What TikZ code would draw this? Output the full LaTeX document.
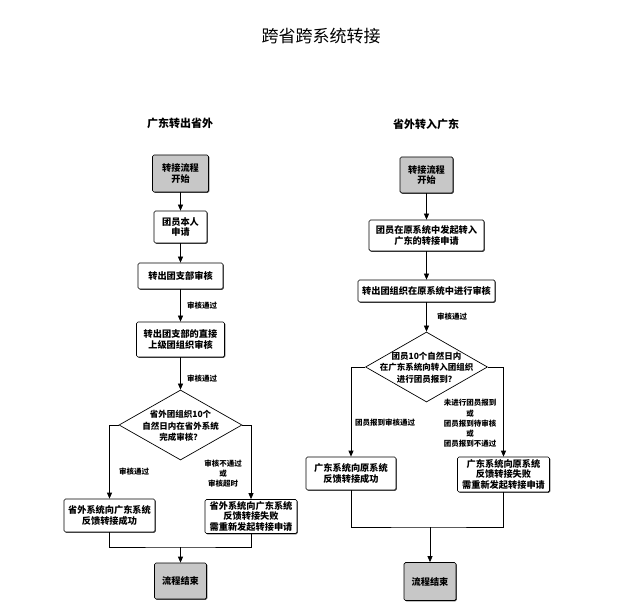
\documentclass[tikz,border=0pt]{standalone}
\usepackage{fontspec}
\setmainfont{Noto Sans CJK SC}
\usetikzlibrary{shapes.geometric,arrows.meta,shadows}
\begin{document}
\begin{tikzpicture}[x=1pt,y=-1pt,
  box/.style={draw, line width=0.7pt, rounded corners=1.5pt, fill=white, align=center, inner sep=0pt,
    font=\fontsize{9.2}{10.5}\selectfont\bfseries,
    drop shadow={shadow xshift=0.8pt, shadow yshift=-0.8pt, fill=black!70, opacity=1}},
  term/.style={box, fill=black!22},
  dia/.style={draw, shape=diamond, line width=0.7pt, inner sep=0pt, fill=white},
  diatext/.style={font=\fontsize{8.5}{11.5}\selectfont\bfseries, align=center, inner sep=0pt},
  lab/.style={font=\fontsize{7.5}{10.2}\selectfont\bfseries, align=center, inner sep=0pt},
  arr/.style={-{Triangle[length=6pt,width=5pt]}, line width=0.7pt},
  ln/.style={line width=0.7pt},
]
\useasboundingbox (0,0) rectangle (643,612);

\node[font=\fontsize{17}{20}\selectfont] (title) at (321,36) {跨省跨系统转接};

% left column
\node[font=\fontsize{11}{13}\selectfont\bfseries] (h1) at (180,123) {广东转出省外};
\node[term, minimum width=56, minimum height=37] (s1) at (180.5,173.5) {转接流程\\开始};
\node[box, minimum width=53, minimum height=32] (b1) at (180.5,227) {团员本人\\申请};
\node[box, minimum width=85, minimum height=26] (b2) at (180.5,276) {转出团支部审核};
\node[box, minimum width=88, minimum height=35] (b3) at (180.5,339.5) {转出团支部的直接\\上级团组织审核};
\node[dia, minimum width=123, minimum height=70] (d1) at (180.5,425) {};
\node[diatext] (d1t) at (180.5,426) {省外团组织10个\\自然日内在省外系统\\完成审核？};
\node[box, minimum width=91, minimum height=33] (n1) at (109.5,515.5) {省外系统向广东系统\\反馈转接成功};
\node[box, minimum width=92, minimum height=34] (n2) at (251,516.5) {省外系统向广东系统\\反馈转接失败\\需重新发起转接申请};
\coordinate (m1) at (180.5,547);
\node[term, minimum width=52, minimum height=36] (e1) at (180.5,581) {流程结束};

\node[lab, anchor=west] (l1) at (187,306) {审核通过};
\node[lab, anchor=west] (l2) at (187,379) {审核通过};
\node[lab] (l3) at (134,472) {审核通过};
\node[lab] (l4) at (223,473.5) {审核不通过\\或\\审核超时};

\draw[arr] (s1) -- (b1);
\draw[arr] (b1) -- (b2);
\draw[arr] (b2) -- (b3);
\draw[arr] (b3) -- (d1);
\draw[arr] (d1.west) -| (n1.north);
\draw[arr] (d1.east) -| (n2.north);
\draw[ln] (n1.south) |- (m1) -| (n2.south);
\draw[arr] (m1) -- (e1);

% right column
\node[font=\fontsize{11}{13}\selectfont\bfseries] (h2) at (426,124) {省外转入广东};
\node[term, minimum width=53, minimum height=36] (s2) at (426.5,175) {转接流程\\开始};
\node[box, minimum width=115, minimum height=31] (c2) at (426.5,235.5) {团员在原系统中发起转入\\广东的转接申请};
\node[box, minimum width=137, minimum height=22] (c3) at (426.5,291) {转出团组织在原系统中进行审核};
\node[dia, minimum width=122, minimum height=70] (d2) at (426.5,367) {};
\node[diatext] (d2t) at (426.5,367.5) {团员10个自然日内\\在广东系统向转入团组织\\进行团员报到？};
\node[box, minimum width=90, minimum height=33] (r1) at (351,473.5) {广东系统向原系统\\反馈转接成功};
\node[box, minimum width=92, minimum height=35] (r2) at (503.5,474.5) {广东系统向原系统\\反馈转接失败\\需重新发起转接申请};
\coordinate (m2) at (430,527);
\node[term, minimum width=52, minimum height=38] (e2) at (430,581.5) {流程结束};

\node[lab, anchor=west] (l5) at (437,317) {审核通过};
\node[lab] (l6) at (385,423) {团员报到审核通过};
\node[lab] (l7) at (470,423.5) {未进行团员报到\\或\\团员报到待审核\\或\\团员报到不通过};

\draw[arr] (s2) -- (c2);
\draw[arr] (c2) -- (c3);
\draw[arr] (c3) -- (d2);
\draw[arr] (d2.west) -| (r1.north);
\draw[arr] (d2.east) -| (r2.north);
\draw[ln] (r1.south) |- (m2) -| (r2.south);
\draw[arr] (m2) -- (e2);
\end{tikzpicture}
\end{document}
